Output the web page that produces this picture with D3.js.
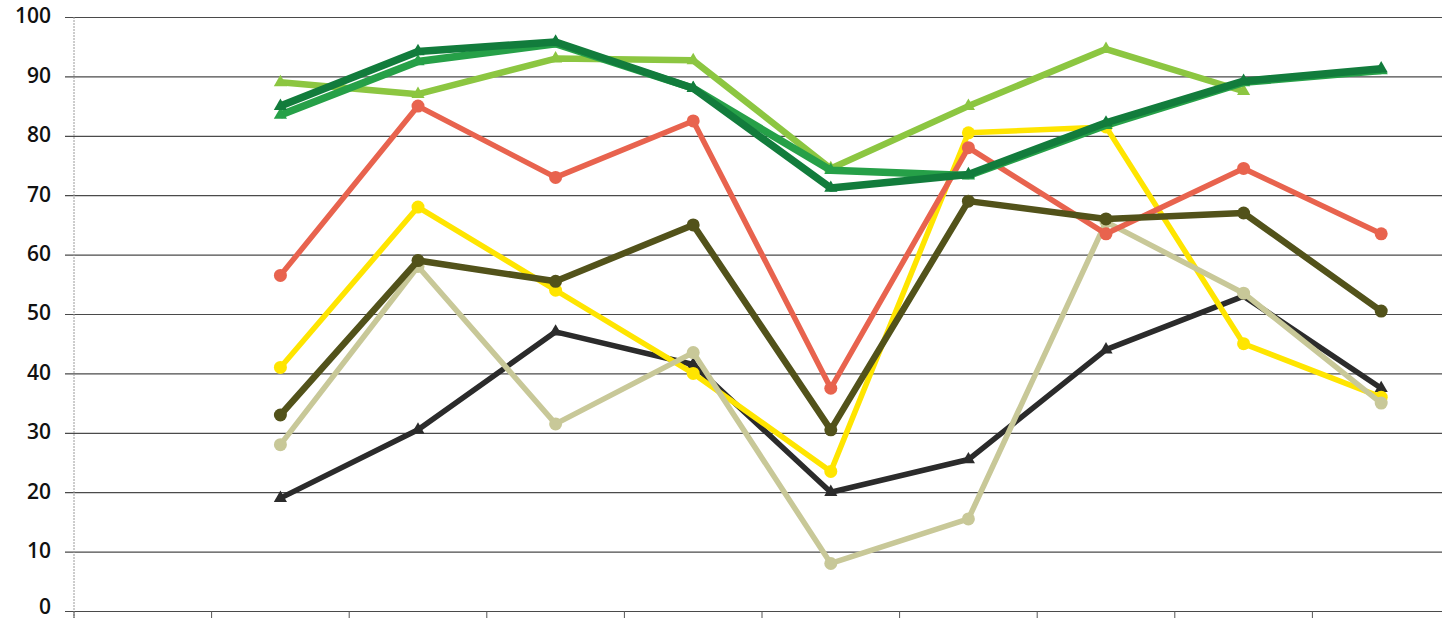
<!DOCTYPE html>
<html>
<head>
<meta charset="utf-8">
<script src="https://cdn.jsdelivr.net/npm/d3@7"></script>
<style>
  body { margin: 0; background: #fff; }
  svg { display: block; }
</style>
</head>
<body>
<div id="chart"></div>
<script>
// categories (first one has no data, x labels are not shown)
const categories = ["c0", "c1", "c2", "c3", "c4", "c5", "c6", "c7", "c8", "c9"];
const yTicks = [0, 10, 20, 30, 40, 50, 60, 70, 80, 90, 100];

// series values, one per category (null = no point)
const blackSeries     = [null, 19, 30.5, 47, 41.5, 20, 25.5, 44, 53, 37.5];
const yellowSeries    = [null, 41, 68, 54, 40, 23.5, 80.5, 81.5, 45, 36];
const khakiSeries     = [null, 28, 58, 31.5, 43.5, 8, 15.5, 65.5, 53.5, 35];
const redSeries       = [null, 56.5, 85, 73, 82.5, 37.5, 78, 63.5, 74.5, 63.5];
const oliveSeries     = [null, 33, 59, 55.5, 65, 30.5, 69, 66, 67, 50.5];
const lightGreenSeries= [null, 89, 87, 93, 92.7, 74.5, 85, 94.6, 87.5, null];
const greenSeries     = [null, 83.5, 92.5, 95.5, 88, 74.2, 73.3, 81.8, 89, 91];
const darkGreenSeries = [null, 85, 94.2, 95.8, 88, 71.2, 73.5, 82.2, 89.2, 91.3];

const series = [
  { name: "black",      values: blackSeries,      color: "#2b2b2b", width: 5.5, marker: "triangle" },
  { name: "yellow",     values: yellowSeries,     color: "#ffe500", width: 5.5, marker: "circle" },
  { name: "khaki",      values: khakiSeries,      color: "#c8c898", width: 5.5, marker: "circle" },
  { name: "red",        values: redSeries,        color: "#e8634e", width: 5.5, marker: "circle" },
  { name: "olive",      values: oliveSeries,      color: "#52521a", width: 6.5, marker: "circle" },
  { name: "lightgreen", values: lightGreenSeries, color: "#8cc641", width: 6.5, marker: "triangle" },
  { name: "green",      values: greenSeries,      color: "#26a048", width: 7.5, marker: "triangle" },
  { name: "darkgreen",  values: darkGreenSeries,  color: "#127c3c", width: 7.5, marker: "triangle" }
];

const width = 1442, height = 620;

const svg = d3.select("#chart").append("svg")
  .attr("width", width)
  .attr("height", height);

const x = d3.scaleBand()
  .domain(categories)
  .range([74, 1450]);

const y = d3.scaleLinear()
  .domain([0, 100])
  .range([611, 17]);

// horizontal gridlines + y labels
const yAxis = svg.append("g")
  .attr("transform", "translate(65,0)")
  .call(d3.axisLeft(y)
    .tickValues(yTicks)
    .tickSize(-(width - 65))
    .tickPadding(14)
    .tickFormat(d3.format("d")));
yAxis.select(".domain").remove();
yAxis.selectAll(".tick line")
  .attr("stroke", "#4a4a4a")
  .attr("stroke-width", 1.2);
yAxis.selectAll(".tick text")
  .attr("fill", "#111")
  .attr("font-family", "Open Sans")
  .attr("font-weight", 600)
  .attr("font-size", 21)
  .attr("dy", d => d === 0 ? "0.1em" : "0.28em"); // keep the 0 inside the page

// left vertical axis line
svg.append("line")
  .attr("x1", x(categories[0])).attr("x2", x(categories[0]))
  .attr("y1", y(100)).attr("y2", y(0) + 7)
  .attr("stroke", "#9a9a9a")
  .attr("stroke-width", 1)
  .attr("stroke-dasharray", "2,1");

// bottom tick marks at category boundaries
svg.append("g")
  .selectAll("line")
  .data(categories)
  .enter().append("line")
  .attr("x1", d => x(d)).attr("x2", d => x(d))
  .attr("y1", y(0)).attr("y2", y(0) + 7)
  .attr("stroke", "#555")
  .attr("stroke-width", 1);

const cx = i => x(categories[i]) + x.bandwidth() / 2;

const line = d3.line()
  .defined(d => d != null)
  .x((d, i) => cx(i))
  .y(d => y(d));

const tri = d3.symbol().type(d3.symbolTriangle).size(75);

series.forEach(s => {
  const g = svg.append("g");
  g.append("path")
    .datum(s.values)
    .attr("fill", "none")
    .attr("stroke", s.color)
    .attr("stroke-width", s.width)
    .attr("stroke-linejoin", "round")
    .attr("d", line);

  const pts = s.values.map((v, i) => ({ v, i })).filter(d => d.v != null);
  if (s.marker === "circle") {
    g.selectAll("circle")
      .data(pts)
      .enter().append("circle")
      .attr("cx", d => cx(d.i))
      .attr("cy", d => y(d.v))
      .attr("r", 6.5)
      .attr("fill", s.color);
  } else {
    g.selectAll("path.m")
      .data(pts)
      .enter().append("path")
      .attr("class", "m")
      .attr("transform", d => "translate(" + cx(d.i) + "," + y(d.v) + ")")
      .attr("d", tri)
      .attr("fill", s.color);
  }
});
</script>
</body>
</html>
